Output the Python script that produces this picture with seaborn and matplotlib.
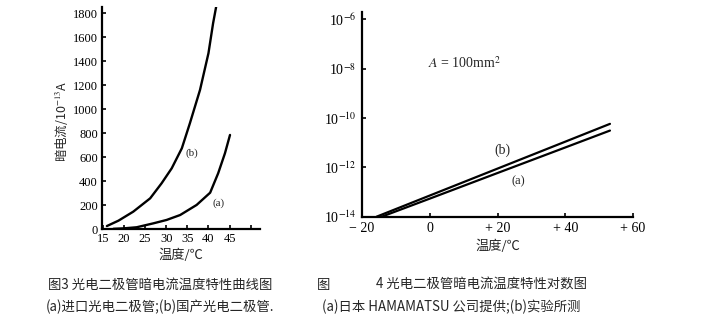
import numpy as np
import pandas as pd
import matplotlib
matplotlib.use("Agg")
import matplotlib.pyplot as plt
import seaborn as sns

# Fig. 3: dark current (10^-13 A) vs temperature, linear scale
temp_b = [15.95, 18.7, 22.2, 26.2, 28.9, 31.3, 33.7, 35.6, 38.0, 40.0, 41.1, 41.9]
dark_b = [27, 72, 147, 258, 383, 508, 675, 883, 1161, 1467, 1717, 1869]
temp_a = [17.5, 20.0, 23.0, 27.0, 30.1, 33.3, 37.2, 40.4, 42.3, 43.9, 45.1]
dark_a = [4, 8, 17, 50, 78, 119, 203, 305, 467, 633, 786]
lin_xticks = [15, 20, 25, 30, 35, 40, 45, 50]
lin_xlabels = ["15", "20", "25", "30", "35", "40", "45", ""]
lin_yticks = [0, 200, 400, 600, 800, 1000, 1200, 1400, 1600, 1800]

# Fig. 4: dark current (A) vs temperature, log scale
log_temp_b = [-15.7, 0, 20, 40, 53.2]
log_dark_b = [1.0e-14, 7.2e-14, 8.9e-13, 1.1e-11, 5.8e-11]
log_temp_a = [-14.2, 0, 20, 40, 53.2]
log_dark_a = [1.0e-14, 5.4e-14, 5.9e-13, 6.4e-12, 3.1e-11]
log_xticks = [-20, 0, 20, 40, 60]
log_xlabels = ["\u2212 20", "0", "+ 20", "+ 40", "+ 60"]
log_yticks = [1e-14, 1e-12, 1e-10, 1e-8, 1e-6]
log_ylabels = ["10$^{-14}$", "10$^{-12}$", "10$^{-10}$", "10$^{-8}$", "10$^{-6}$"]

caption1_left = "图3 光电二极管暗电流温度特性曲线图"
caption2_left = "(a)进口光电二极管;(b)国产光电二极管."
caption1_right_a = "图"
caption1_right_b = "4 光电二极管暗电流温度特性对数图"
caption2_right = "(a)日本 HAMAMATSU 公司提供;(b)实验所测"

sns.set_theme(style="ticks")
plt.rcParams["font.family"] = ["Liberation Serif", "Noto Sans CJK SC", "DejaVu Sans"]
plt.rcParams["mathtext.fontset"] = "stix"
cjk = ["Noto Sans CJK SC", "DejaVu Sans"]

W, H = 704, 326
fig = plt.figure(figsize=(W / 100, H / 100), dpi=100)
fig.patch.set_facecolor("white")

def frac(left, top, right, bottom):
    return [left / W, 1 - bottom / H, (right - left) / W, (bottom - top) / H]

# ---- linear chart ----
ax1 = fig.add_axes(frac(102, 7, 260, 229.3))
df_b = pd.DataFrame({"t": temp_b, "i": dark_b})
df_a = pd.DataFrame({"t": temp_a, "i": dark_a})
sns.lineplot(data=df_b, x="t", y="i", ax=ax1, color="black", lw=1.7, sort=False)
sns.lineplot(data=df_a, x="t", y="i", ax=ax1, color="black", lw=1.7, sort=False)
ax1.set_xlim(14.8, 52.2)
ax1.set_ylim(0, 1852)
ax1.set_xticks(lin_xticks)
ax1.set_xticklabels(lin_xlabels)
ax1.set_yticks(lin_yticks)
ax1.tick_params(direction="in", length=3, width=1.2, labelsize=9, colors="black")
ax1.tick_params(axis="y", pad=3)
ax1.tick_params(axis="x", pad=3)
for s in ["top", "right"]:
    ax1.spines[s].set_visible(False)
for s in ["left", "bottom"]:
    ax1.spines[s].set_linewidth(1.6)
    ax1.spines[s].set_color("black")
ax1.set_xlabel("温度/℃", family=cjk, fontsize=9.5, labelpad=2)
ax1.set_ylabel("暗电流/10$^{-13}$A", family=cjk, fontsize=9)
ax1.yaxis.set_label_coords((71 - 102) / 158, (229.3 - 121) / 222.3)
ax1.text(36.1, 636, "(b)", fontsize=8, ha="center", va="center")
ax1.text(42.5, 219, "(a)", fontsize=8, ha="center", va="center")
ax1.patch.set_alpha(0)

# ---- log chart ----
ax2 = fig.add_axes(frac(362, 11.7, 633, 216.7))
lg_b = pd.DataFrame({"t": log_temp_b, "i": log_dark_b})
lg_a = pd.DataFrame({"t": log_temp_a, "i": log_dark_a})
sns.lineplot(data=lg_b, x="t", y="i", ax=ax2, color="black", lw=1.6)
sns.lineplot(data=lg_a, x="t", y="i", ax=ax2, color="black", lw=1.6)
ax2.set_yscale("log")
ax2.set_xlim(-20, 60)
ax2.set_ylim(1e-14, 10 ** -5.69)
ax2.set_xticks(log_xticks)
ax2.set_xticklabels(log_xlabels)
ax2.set_yticks(log_yticks)
ax2.set_yticklabels(log_ylabels)
ax2.yaxis.set_minor_locator(matplotlib.ticker.NullLocator())
ax2.tick_params(direction="in", length=3, width=1.2, labelsize=10, pad=4, colors="black")
for s in ["top", "right"]:
    ax2.spines[s].set_visible(False)
for s in ["left", "bottom"]:
    ax2.spines[s].set_linewidth(1.6)
    ax2.spines[s].set_color("black")
ax2.set_xlabel("温度/℃", family=cjk, fontsize=9.5, labelpad=3)
ax2.set_ylabel("")
ax2.text(-0.5, 10 ** -7.77, "$A$ = 100mm$^2$", fontsize=10, ha="left", va="center")
ax2.text(21.6, 10 ** -11.3, "(b)", fontsize=10, ha="center", va="center")
ax2.text(26, 10 ** -12.58, "(a)", fontsize=9, ha="center", va="center")
ax2.patch.set_alpha(0)

# ---- captions ----
def put(x, y, s, **kw):
    fig.text(x / W, 1 - y / H, s, family=cjk, fontsize=9.6, ha="left", va="center", **kw)

put(48, 285, caption1_left)
put(317, 285, caption1_right_a)
put(376, 285, caption1_right_b)
put(46, 307, caption2_left)
put(322, 307, caption2_right)

fig.savefig("out.png", dpi=100, facecolor="white")
